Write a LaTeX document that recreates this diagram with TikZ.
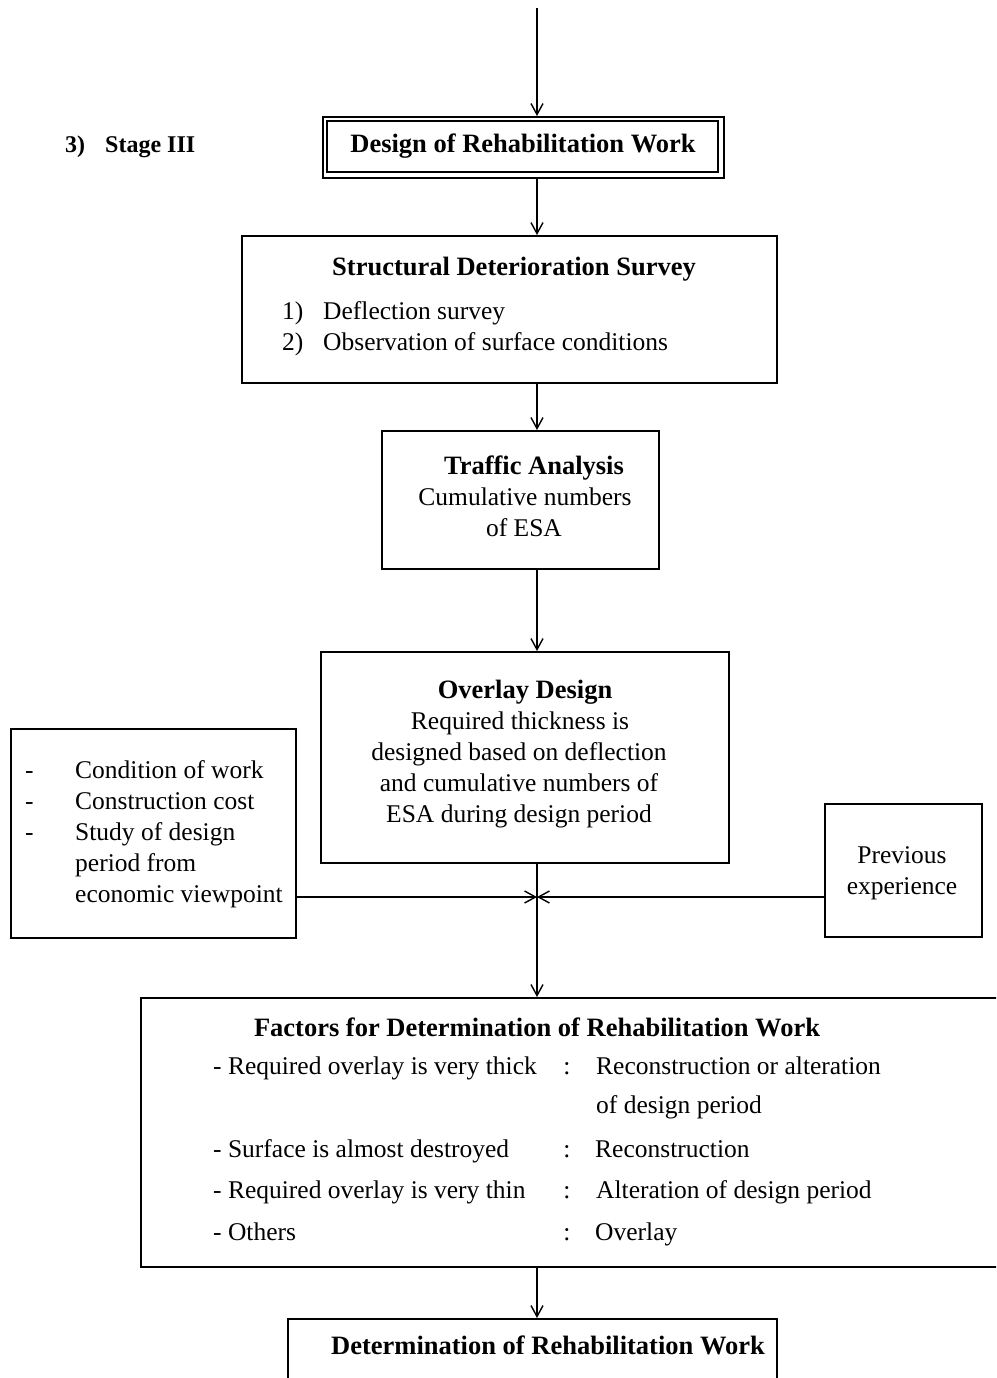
\documentclass[tikz,border=0pt]{standalone}
\usepackage{fontspec}
\setmainfont{Liberation Serif}
\usetikzlibrary{arrows.meta}
\newcommand\regf{\fontsize{25.5}{31}\selectfont}
\newcommand\bldf{\fontsize{26.5}{31}\selectfont\bfseries}
\newcommand\stgf{\fontsize{24}{31}\selectfont\bfseries}
\begin{document}
\begin{tikzpicture}[x=1pt,y=-1pt,
  box/.style={draw, line width=1.6pt, inner sep=0, anchor=north west},
  txt/.style={inner sep=0, font=\regf},
  bld/.style={inner sep=0, font=\bldf},
  arr/.style={line width=1.6pt, -{Straight Barb[length=11pt,width=12pt,line width=1.4pt]}},
  ln/.style={line width=1.6pt}]
\useasboundingbox (0,0) rectangle (996,1378);
\clip (0,0) rectangle (996,1378);
% column of the main arrows
\coordinate (A) at (537,0);
\coordinate (top) at (537,8);
% boxes
\node[box, minimum width=401pt, minimum height=61pt] (design) at (322,116) {};
\draw[line width=1.3pt] (327,121) rectangle (718,172);
\node[box, minimum width=535pt, minimum height=147pt] (struct) at (241,235) {};
\node[box, minimum width=277pt, minimum height=138pt] (traffic) at (381,430) {};
\node[box, minimum width=408pt, minimum height=211pt] (overlay) at (320,651) {};
\node[box, minimum width=285pt, minimum height=209pt] (left) at (10,728) {};
\node[box, minimum width=157pt, minimum height=133pt] (right) at (824,803) {};
\node[box, minimum width=880pt, minimum height=269pt] (factors) at (140,997) {};
\node[box, minimum width=489pt, minimum height=100pt] (determ) at (287,1318) {};
\coordinate (J) at (537,897);
% texts
\node[inner sep=0, font=\stgf, anchor=base west] (s3) at (65,153) {3)};
\node[inner sep=0, font=\stgf, anchor=base west] (stage) at (105,153) {Stage III};
\node[bld, anchor=base] (tdesign) at (523,152) {Design of Rehabilitation Work};
\node[bld, anchor=base] (tstruct) at (514,275) {Structural Deterioration Survey};
\node[txt, anchor=base west] (n1) at (282,319) {1)};
\node[txt, anchor=base west] (d1) at (323,319) {Deflection survey};
\node[txt, anchor=base west] (n2) at (282,350) {2)};
\node[txt, anchor=base west] (d2) at (323,350) {Observation of surface conditions};
\node[bld, anchor=base] (ttraf) at (534,474) {Traffic Analysis};
\node[txt, anchor=base] (tr1) at (525,505) {Cumulative numbers};
\node[txt, anchor=base] (tr2) at (524,536) {of ESA};
\node[bld, anchor=base] (tover) at (525,698) {Overlay Design};
\node[txt, anchor=base] (o1) at (520,729) {Required thickness is};
\node[txt, anchor=base] (o2) at (519,760) {designed based on deflection};
\node[txt, anchor=base] (o3) at (519,791) {and cumulative numbers of};
\node[txt, anchor=base] (o4) at (519,822) {ESA during design period};
\foreach \y/\t [count=\i] in {778/Condition of work, 809/Construction cost, 840/Study of design}
  {\node[txt, anchor=base west] (ld\i) at (25,\y) {-};
   \node[txt, anchor=base west] (l\i) at (75,\y) {\t};}
\node[txt, anchor=base west] (l4) at (75,871) {period from};
\node[txt, anchor=base west] (l5) at (75,902) {economic viewpoint};
\node[txt, anchor=base] (r1) at (902,863) {Previous};
\node[txt, anchor=base] (r2) at (902,894) {experience};
\node[bld, anchor=base] (tfact) at (537,1036) {Factors for Determination of Rehabilitation Work};
\node[txt, anchor=base west] (f1) at (213,1074) {- Required overlay is very thick};
\node[txt, anchor=base] (c1) at (567,1074) {:};
\node[txt, anchor=base west] (g1) at (596,1074) {Reconstruction or alteration};
\node[txt, anchor=base west] (g1b) at (596,1113) {of design period};
\node[txt, anchor=base west] (f2) at (213,1157) {- Surface is almost destroyed};
\node[txt, anchor=base] (c2) at (567,1157) {:};
\node[txt, anchor=base west] (g2) at (595,1157) {Reconstruction};
\node[txt, anchor=base west] (f3) at (213,1198) {- Required overlay is very thin};
\node[txt, anchor=base] (c3) at (567,1198) {:};
\node[txt, anchor=base west] (g3) at (596,1198) {Alteration of design period};
\node[txt, anchor=base west] (f4) at (213,1240) {- Others};
\node[txt, anchor=base] (c4) at (567,1240) {:};
\node[txt, anchor=base west] (g4) at (595,1240) {Overlay};
\node[bld, anchor=base] (tdet) at (548,1354) {Determination of Rehabilitation Work};
% connectors
\draw[arr] (top) -- (design.north -| A);
\draw[arr] (design.south -| A) -- (struct.north -| A);
\draw[arr] (struct.south -| A) -- (traffic.north -| A);
\draw[arr] (traffic.south -| A) -- (overlay.north -| A);
\draw[arr] (overlay.south -| A) -- (factors.north -| A);
\draw[arr] (left.east |- J) -- (J);
\draw[arr] (right.west |- J) -- (J);
\draw[arr] (factors.south -| A) -- (determ.north -| A);
\end{tikzpicture}
\end{document}
